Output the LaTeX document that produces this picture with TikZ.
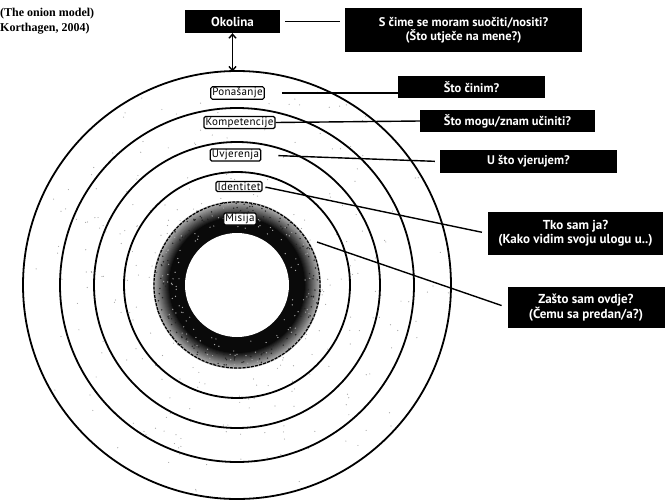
\documentclass[tikz,border=0pt]{standalone}
\usepackage{fontspec}
\setmainfont{Liberation Serif}
\setsansfont{PT Sans}
\usetikzlibrary{arrows.meta}
\begin{document}
\begin{tikzpicture}[x=1pt,y=-1pt,
  ring/.style={line width=1.8pt},
  qbox/.style={fill=black, text=white, font=\sffamily\bfseries\fontsize{12.5}{14}\selectfont, inner sep=0pt, align=center},
  lbl/.style={draw, fill=white, line width=1.2pt, rounded corners=1.5pt, font=\sffamily\fontsize{11}{10}\selectfont\addfontfeature{LetterSpace=3}, inner xsep=1.5pt, inner ysep=1pt},
  conn/.style={line width=1.4pt},
  ttl/.style={font=\bfseries\fontsize{12}{13}\selectfont, inner sep=0pt, anchor=west}]
\useasboundingbox (0,0) rectangle (665,499);
% dark inner ring (filled disks from outside in)
\foreach \i in {32,31,...,0} {
  \pgfmathsetmacro\g{\i<16 ? 96 : 96-(\i-16)*4.2}
  \fill[black!\g] (237,285) circle[radius=52+\i];
}
\fill[white] (237,285) circle[radius=52];
% speckles
\pgfmathsetseed{11}
\foreach \k in {1,...,260} {
  \pgfmathsetmacro\a{rnd*360}
  \pgfmathsetmacro\rr{85+rnd*127}
  \fill[black!35] (237,285) ++(\a:\rr) circle[radius=0.6];
}
\foreach \k in {1,...,160} {
  \pgfmathsetmacro\a{rnd*360}
  \pgfmathsetmacro\rr{70+rnd*14}
  \fill[black!85] (237,285) ++(\a:\rr) circle[radius=0.8];
}
\foreach \k in {1,...,120} {
  \pgfmathsetmacro\a{rnd*360}
  \pgfmathsetmacro\rr{57+rnd*24}
  \fill[black!35] (237,285) ++(\a:\rr) circle[radius=0.7];
}
% circles
\draw[ring] (237,285) circle[radius=214];
\draw[ring] (237,285) circle[radius=177];
\draw[ring] (237,285) circle[radius=143];
\draw[ring] (237,285) circle[radius=113];
\draw[line width=1.2pt, dash pattern=on 3pt off 1.2pt] (237,285) circle[radius=83];

% title
\node[ttl] (t1) at (0,14) {(The onion model)};
\node[ttl] (t2) at (0,28.5) {Korthagen, 2004)};

% boxes
\node[qbox, minimum width=95pt, minimum height=23pt, font=\sffamily\bfseries\fontsize{13}{14}\selectfont] (oko) at (232.5,21.5) {Okolina};
\node[qbox, minimum width=237pt, minimum height=44pt] (q0) at (463.5,30) {S čime se moram suočiti/nositi?\\(Što utječe na mene?)};
\node[qbox, minimum width=147pt, minimum height=22pt] (q1) at (471.5,87) {Što činim?};
\node[qbox, minimum width=175pt, minimum height=22pt] (q2) at (507.5,121) {Što mogu/znam učiniti?};
\node[qbox, minimum width=177pt, minimum height=23pt] (q3) at (528.5,161.5) {U što vjerujem?};
\node[qbox, minimum width=175pt, minimum height=43pt, font=\sffamily\bfseries\fontsize{13}{14}\selectfont] (q4) at (575.5,233.5) {Tko sam ja?\\(Kako vidim svoju ulogu u..)};
\node[qbox, minimum width=157pt, minimum height=41pt, font=\sffamily\bfseries\fontsize{13}{14}\selectfont] (q5) at (586,307.5) {Zašto sam ovdje?\\(Čemu sa predan/a?)};

% labels
\node[lbl] (pon) at (237.5,93) {Ponašanje};
\node[lbl] (komp) at (239.5,122.5) {Kompetencije};
\node[lbl] (uvj) at (235.5,155) {Uvjerenja};
\node[lbl] (ide) at (239,186.5) {Identitet};
\node[lbl] (mis) at (240,219) {Misija};

% connectors
\coordinate (otop) at (232.5,71.5);
\draw[conn, {Straight Barb[length=4pt,width=7pt]}-{Straight Barb[length=4pt,width=7pt]}] (oko.south) -- (otop);
\draw[conn, shorten <=5pt, shorten >=5pt] (oko.east) -- (oko.east -| q0.west);
\draw[conn, shorten <=17pt] (pon.east) -- (pon.east -| q1.west);
\draw[conn] (komp.east) -- (q2.west);
\draw[conn, shorten <=17pt, shorten >=5pt] (uvj.east) -- (q3.west);
\draw[conn, shorten <=3pt, shorten >=6pt] (ide.east) -- (q4.west);
\coordinate (mstart) at (317,242);
\draw[conn, shorten >=6pt] (mstart) -- (q5.west);
\end{tikzpicture}
\end{document}
